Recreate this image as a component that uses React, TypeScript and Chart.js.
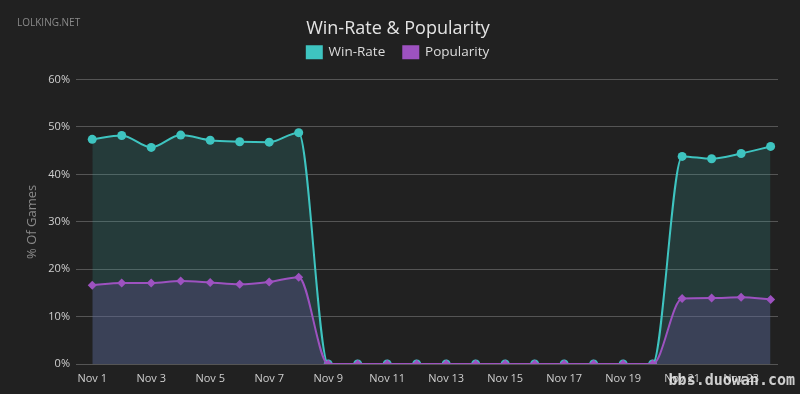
import React, { useEffect, useRef } from "react";
import { Chart, registerables } from "chart.js";

Chart.register(...registerables);

const categories = [
  "Nov 1", "Nov 2", "Nov 3", "Nov 4", "Nov 5", "Nov 6", "Nov 7", "Nov 8",
  "Nov 9", "Nov 10", "Nov 11", "Nov 12", "Nov 13", "Nov 14", "Nov 15", "Nov 16",
  "Nov 17", "Nov 18", "Nov 19", "Nov 20", "Nov 21", "Nov 22", "Nov 23", "Nov 24",
];
const winRate = [
  47.4, 48.2, 45.7, 48.3, 47.2, 46.9, 46.8, 48.8,
  0, 0, 0, 0, 0, 0, 0, 0, 0, 0, 0, 0,
  43.8, 43.3, 44.4, 45.9,
];
const popularity = [
  16.6, 17.1, 17.1, 17.5, 17.2, 16.8, 17.3, 18.3,
  0, 0, 0, 0, 0, 0, 0, 0, 0, 0, 0, 0,
  13.8, 13.9, 14.1, 13.6,
];
const yTicks = [0, 10, 20, 30, 40, 50, 60];

const FONT = "'Open Sans', 'Noto Sans', sans-serif";

export default function App() {
  const ref = useRef<HTMLCanvasElement>(null);
  useEffect(() => {
    document.body.style.margin = "0";
    document.body.style.background = "#212121";
    const ctx = ref.current!;
    const legendSpace = {
      id: "legendSpace",
      beforeInit(chart: any) {
        const lg = chart.legend;
        if (!lg) return;
        const orig = lg.fit;
        lg.fit = function () {
          orig.call(this);
          this.height = 52;
        };
      },
    };
    const watermark = {
      id: "watermark",
      afterDraw(chart: any) {
        const c = chart.ctx;
        c.save();
        c.font = `10px ${FONT}`;
        c.fillStyle = "#8a8a8a";
        c.textBaseline = "middle";
        c.textAlign = "left";
        c.fillText("LOLKING.NET", 17, 23);
        c.font = `bold 15px 'DejaVu Sans Mono', monospace`;
        c.fillStyle = "rgba(235,235,235,0.85)";
        c.textAlign = "right";
        c.fillText("bbs.duowan.com", 795, 381);
        c.restore();
      },
    };
    const chart = new Chart(ctx, {
      type: "line",
      data: {
        datasets: [
          {
            label: "Win-Rate",
            data: winRate.map((v, i) => ({ x: i, y: v })),
            borderColor: "#3ec4c0",
            backgroundColor: "#3ec4c0",
            fill: { target: "origin", above: "rgba(53,163,158,0.2)" },
            borderWidth: 2,
            pointRadius: 4.5,
            pointHoverRadius: 4.5,
            pointBackgroundColor: "#3ec4c0",
            pointBorderWidth: 0,
            cubicInterpolationMode: "monotone",
            order: 2,
          },
          {
            label: "Popularity",
            data: popularity.map((v, i) => ({ x: i, y: v })),
            borderColor: "#9d52c0",
            backgroundColor: "#9d52c0",
            fill: { target: "origin", above: "rgba(110,79,155,0.3)" },
            borderWidth: 2,
            pointRadius: 4.5,
            pointHoverRadius: 4.5,
            pointStyle: "rectRot",
            pointBackgroundColor: "#9d52c0",
            pointBorderWidth: 0,
            cubicInterpolationMode: "monotone",
            order: 1,
          },
        ],
      },
      options: {
        animation: false,
        responsive: false,
        maintainAspectRatio: false,
        layout: { padding: { left: 18, right: 22, top: 0, bottom: 0 } },
        plugins: {
          title: {
            display: true,
            text: "Win-Rate & Popularity",
            color: "#e4e4e4",
            font: { family: FONT, size: 18, weight: "normal" },
            padding: { top: 18, bottom: -12 },
          },
          legend: {
            display: true,
            labels: {
              color: "#dcdcdc",
              font: { family: FONT, size: 13.5 },
              boxWidth: 15,
              boxHeight: 12,
              padding: 18,
              sort: (a: any, b: any) => a.datasetIndex - b.datasetIndex,
            },
          },
          tooltip: { enabled: false },
        },
        scales: {
          x: {
            type: "linear",
            min: -0.55,
            max: 23.25,
            grid: { display: false, drawTicks: false },
            border: { display: false },
            afterBuildTicks: (scale: any) => {
              scale.ticks = categories
                .map((_, i) => i)
                .filter((i) => i % 2 === 0)
                .map((i) => ({ value: i }));
            },
            afterFit: (scale: any) => {
              scale.height = 30;
            },
            ticks: {
              autoSkip: false,
              maxRotation: 0,
              padding: 8,
              color: "#cfcfcf",
              font: { family: FONT, size: 11 },
              callback: (v: any) => categories[Math.round(Number(v))] ?? "",
            },
          },
          y: {
            type: "linear",
            min: 0,
            max: 60,
            afterBuildTicks: (scale: any) => {
              scale.ticks = yTicks.map((v) => ({ value: v }));
            },
            afterFit: (scale: any) => {
              scale.width = 58;
            },
            grid: { color: "#555555", lineWidth: 1, drawTicks: false },
            border: { display: false },
            ticks: {
              padding: 6,
              color: "#cfcfcf",
              font: { family: FONT, size: 11 },
              callback: (v: any) => `${v}%`,
            },
            title: {
              display: true,
              text: "% Of Games",
              color: "#8a8a8a",
              font: { family: FONT, size: 13 },
              padding: { top: 6, bottom: 0 },
            },
          },
        },
      },
      plugins: [legendSpace, watermark],
    });
    return () => chart.destroy();
  }, []);
  return (
    <div style={{ width: 800, height: 394, background: "#212121" }}>
      <canvas ref={ref} width={800} height={394} style={{ display: "block" }} />
    </div>
  );
}
